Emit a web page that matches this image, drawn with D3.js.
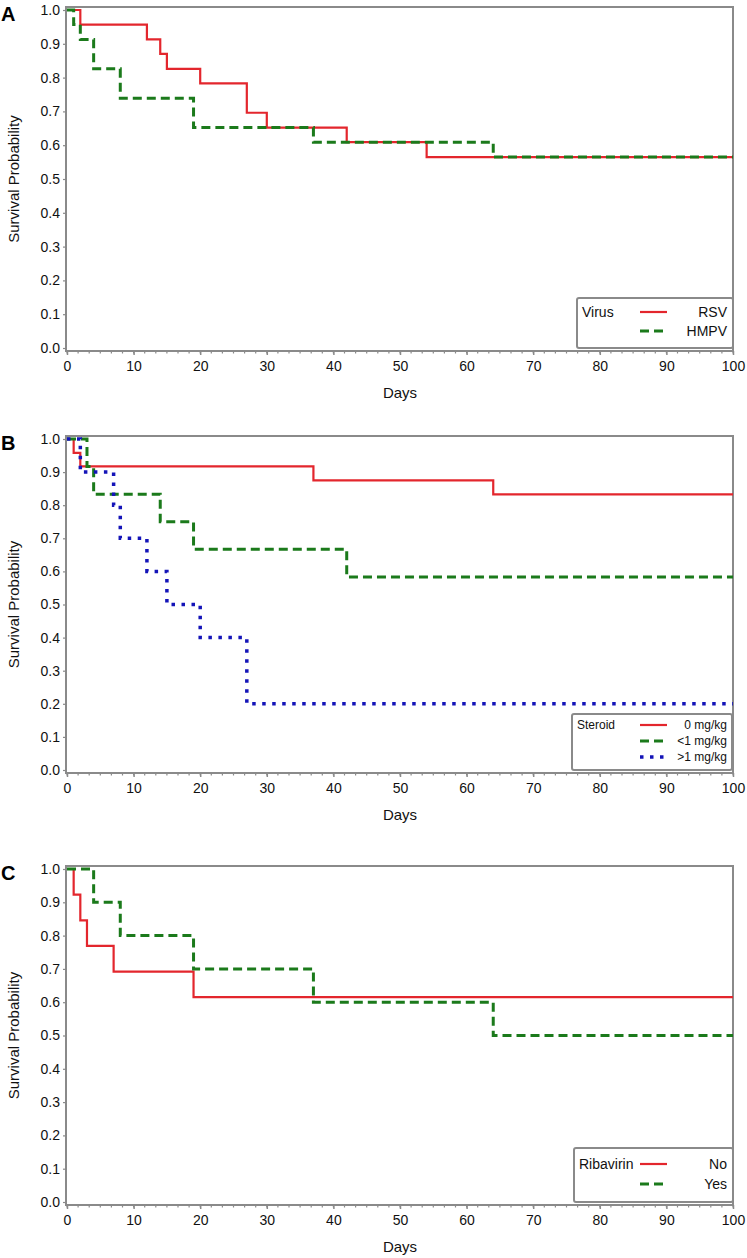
<!DOCTYPE html>
<html><head><meta charset="utf-8">
<script src="https://cdn.jsdelivr.net/npm/d3@7"></script>
<style>
html,body{margin:0;padding:0;background:#fff;}
svg{display:block;font-family:"Liberation Sans",Arial,sans-serif;}
</style></head>
<body>
<svg id="chart" width="747" height="1258"></svg>
<script>
// ---- Data ----
const xTicks = [0,10,20,30,40,50,60,70,80,90,100];
const yTicks = [0,0.1,0.2,0.3,0.4,0.5,0.6,0.7,0.8,0.9,1.0];

// Panel A: Virus
const aRsvDays  = [0, 2, 12, 14, 15, 20, 27, 30, 42, 54, 100];
const aRsvSurv  = [1.0, 0.957, 0.913, 0.870, 0.826, 0.783, 0.696, 0.652, 0.609, 0.565, 0.565];
const aHmpvDays = [0, 1, 2, 4, 8, 19, 37, 64, 100];
const aHmpvSurv = [1.0, 0.957, 0.913, 0.826, 0.739, 0.652, 0.609, 0.565, 0.565];

// Panel B: Steroid
const b0Days   = [0, 1, 2, 37, 64, 100];
const b0Surv   = [1.0, 0.958, 0.917, 0.875, 0.833, 0.833];
const bLt1Days = [0, 3, 4, 14, 19, 42, 100];
const bLt1Surv = [1.0, 0.917, 0.833, 0.750, 0.667, 0.583, 0.583];
const bGt1Days = [0, 2, 7, 8, 12, 15, 20, 27, 100];
const bGt1Surv = [1.0, 0.9, 0.8, 0.7, 0.6, 0.5, 0.4, 0.2, 0.2];

// Panel C: Ribavirin
const cNoDays  = [0, 1, 2, 3, 7, 19, 100];
const cNoSurv  = [1.0, 0.923, 0.846, 0.769, 0.692, 0.615, 0.615];
const cYesDays = [0, 4, 8, 19, 37, 64, 100];
const cYesSurv = [1.0, 0.9, 0.8, 0.7, 0.6, 0.5, 0.5];

const RED = "#e3262d", GREEN = "#1b7a1b", BLUE = "#1414b8";
const styles = {
  solid:  {color: RED, width: 2.2, dash: null},
  dashed: {color: GREEN, width: 3, dash: "9,5"},
  dotted: {color: BLUE, width: 3.5, dash: "3.5,6.5"}
};

const panels = [
  {letter:"A", top:10, bottom:348, legendTitle:"Virus", legendFont:14,
   legendBox:[577, 298, 733, 348], rowY:[312, 331],
   series:[
     {name:"RSV", days:aRsvDays, surv:aRsvSurv, style:"solid"},
     {name:"HMPV", days:aHmpvDays, surv:aHmpvSurv, style:"dashed"}]},
  {letter:"B", top:439, bottom:770, legendTitle:"Steroid", legendFont:12,
   legendBox:[572, 714, 732, 770], rowY:[725, 741, 757],
   series:[
     {name:"0 mg/kg", days:b0Days, surv:b0Surv, style:"solid"},
     {name:"<1 mg/kg", days:bLt1Days, surv:bLt1Surv, style:"dashed"},
     {name:">1 mg/kg", days:bGt1Days, surv:bGt1Surv, style:"dotted"}]},
  {letter:"C", top:869, bottom:1202, legendTitle:"Ribavirin", legendFont:14,
   legendBox:[574, 1148, 733, 1202], rowY:[1164, 1184],
   series:[
     {name:"No", days:cNoDays, surv:cNoSurv, style:"solid"},
     {name:"Yes", days:cYesDays, surv:cYesSurv, style:"dashed"}]}
];

const svg = d3.select("#chart");
const x = d3.scaleLinear().domain([0,100]).range([67,733]);
const AX = "#8a8a8a";

panels.forEach(p => {
  const y = d3.scaleLinear().domain([0,1]).range([p.bottom, p.top]);
  const g = svg.append("g");
  const fTop = p.top - 3, fBot = p.bottom + 3;

  // frame
  g.append("rect").attr("x", 66).attr("y", fTop)
    .attr("width", 733 - 66).attr("height", fBot - fTop)
    .attr("fill", "none").attr("stroke", AX).attr("stroke-width", 2);

  // x axis
  const xAxis = d3.axisBottom(x).tickValues(xTicks).tickSize(4).tickPadding(6);
  const xa = g.append("g").attr("transform", `translate(0,${fBot})`).call(xAxis);
  xa.select(".domain").remove();
  xa.selectAll(".tick line").attr("stroke", AX).attr("stroke-width", 1.5);
  xa.selectAll(".tick text").attr("font-size", 14).attr("fill", "#111")
    .attr("font-family", "'Liberation Sans', Arial, sans-serif");
  // minor ticks
  const minor = d3.range(0, 100.001, 10/6);
  g.selectAll(".minor").data(minor).join("line")
    .attr("x1", d => x(d)).attr("x2", d => x(d))
    .attr("y1", fBot).attr("y2", fBot + 2.5)
    .attr("stroke", AX).attr("stroke-width", 1.2);

  // y axis
  const yAxis = d3.axisLeft(y).tickValues(yTicks).tickSize(3).tickPadding(3).tickFormat(d3.format(".1f"));
  const ya = g.append("g").attr("transform", `translate(66,0)`).call(yAxis);
  ya.select(".domain").remove();
  ya.selectAll(".tick line").attr("stroke", AX).attr("stroke-width", 1.2);
  ya.selectAll(".tick text").attr("font-size", 14).attr("fill", "#111")
    .attr("font-family", "'Liberation Sans', Arial, sans-serif");

  // titles
  g.append("text").attr("x", 400).attr("y", fBot + 47).attr("text-anchor", "middle")
    .attr("font-size", 15).attr("fill", "#111").text("Days");
  g.append("text").attr("transform", `translate(19,${(p.top + p.bottom)/2}) rotate(-90)`)
    .attr("text-anchor", "middle").attr("font-size", 15).attr("fill", "#111")
    .text("Survival Probability");
  g.append("text").attr("x", 1).attr("y", p.top + 11).attr("font-size", 20)
    .attr("font-weight", "bold").attr("fill", "#000").text(p.letter);

  // curves
  const line = d3.line().x(d => x(d[0])).y(d => y(d[1])).curve(d3.curveStepAfter);
  p.series.forEach(s => {
    const st = styles[s.style];
    const pts = s.days.map((d,i) => [d, s.surv[i]]);
    g.append("path").attr("d", line(pts)).attr("fill", "none")
      .attr("stroke", st.color).attr("stroke-width", st.width)
      .attr("stroke-dasharray", st.dash).attr("stroke-linejoin", "miter");
  });

  // legend
  const [lx0, ly0, lx1, ly1] = p.legendBox;
  g.append("rect").attr("x", lx0).attr("y", ly0).attr("width", lx1 - lx0).attr("height", ly1 - ly0)
    .attr("rx", 2).attr("fill", "#fff").attr("stroke", AX).attr("stroke-width", 2);
  g.append("text").attr("x", lx0 + 5).attr("y", p.rowY[0]).attr("dy", "0.35em")
    .attr("font-size", p.legendFont).attr("fill", "#111").text(p.legendTitle);
  p.series.forEach((s, i) => {
    const st = styles[s.style];
    const yy = p.rowY[i];
    g.append("line").attr("x1", 640).attr("x2", 667).attr("y1", yy).attr("y2", yy)
      .attr("stroke", st.color).attr("stroke-width", st.width)
      .attr("stroke-dasharray", st.dash);
    g.append("text").attr("x", 727).attr("y", yy).attr("dy", "0.35em")
      .attr("text-anchor", "end").attr("font-size", p.legendFont).attr("fill", "#111")
      .text(s.name);
  });
});
</script>
</body></html>
